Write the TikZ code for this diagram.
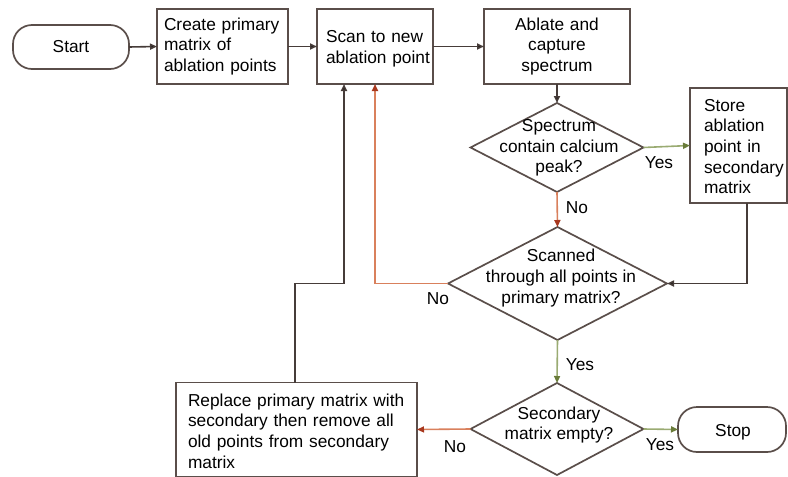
\documentclass[tikz,border=0pt]{standalone}
\usepackage{fontspec}
\setmainfont{Liberation Sans}
\usetikzlibrary{shapes.geometric,arrows.meta}
\definecolor{boxc}{HTML}{5A4E4A}
\definecolor{linec}{HTML}{463C39}
\definecolor{redl}{HTML}{D9805C}
\definecolor{redh}{HTML}{A8381E}
\definecolor{grnl}{HTML}{9AAB72}
\definecolor{grnh}{HTML}{6A7C3A}
\tikzset{
  base/.style={draw=boxc, line width=1.7pt, outer sep=0pt, font=\fontsize{17.3}{20.7}\selectfont},
  procbox/.style={base, rectangle, inner sep=0pt, align=left},
  termbox/.style={base, rectangle, rounded corners=19pt, inner sep=0pt},
  decis/.style={base, diamond, inner sep=0pt},
  txt/.style={inner sep=0pt, align=center, font=\fontsize{17.3}{20.7}\selectfont},
  lbl/.style={inner sep=0pt, font=\fontsize{17.3}{20.7}\selectfont},
  blk/.style={draw=linec, line width=1.6pt, -{Triangle[length=7pt,width=6pt,fill=black]}},
  redarr/.style={draw=redl, line width=1.6pt, -{Triangle[length=7pt,width=6pt,color=redh]}},
  grnarr/.style={draw=grnl, line width=1.6pt, -{Triangle[length=7pt,width=6pt,color=grnh]}},
}
\begin{document}
\begin{tikzpicture}[x=1pt,y=-1pt]
\useasboundingbox (0,0) rectangle (788,477);
% terminals
\node[termbox, minimum width=116pt, minimum height=44pt] (start) at (71,47) {Start};
\node[termbox, minimum width=108pt, minimum height=45pt] (stop) at (732,429.5) {};
\node[txt] at (733,432) {Stop};
% process boxes
\node[procbox, minimum width=131pt, minimum height=75pt, text width=117pt] (create) at (222.5,46.5) {Create primary\\matrix of\\ablation points};
\node[procbox, minimum width=116pt, minimum height=75pt] (scan) at (375,46.5) {};
\node[txt, align=left, text width=106pt] at (379,49) {Scan to new\\ablation point};
\node[procbox, minimum width=146pt, minimum height=75pt, text width=140pt, align=center] (ablate) at (557,46.5) {Ablate and\\capture\\spectrum};
\node[procbox, minimum width=97pt, minimum height=115pt] (store) at (738.5,145.5) {};
\node[txt, align=left, text width=82pt] at (745,146.5) {Store\\ablation\\point in\\secondary\\matrix};
\node[procbox, minimum width=241pt, minimum height=94pt] (replace) at (296.5,429.5) {};
\node[txt, align=left, text width=228pt] at (302,431) {Replace primary matrix with\\secondary then remove all\\old points from secondary\\matrix};
% decisions
\node[decis, minimum width=173pt, minimum height=89pt] (d1) at (557,147.5) {};
\node[txt] at (559,148) {Spectrum\\contain calcium\\peak?};
\node[decis, minimum width=219pt, minimum height=113pt] (d2) at (557.5,283.5) {};
\node[txt] at (561,278) {Scanned\\through all points in\\primary matrix?};
\node[decis, minimum width=173pt, minimum height=92pt] (d3) at (557,429) {};
\node[txt] at (559,425) {Secondary\\matrix empty?};
% coordinates
\coordinate (storeout) at ([xshift=8.5pt]store.south);
\coordinate (repout) at ([xshift=-1.5pt]replace.north);
\coordinate (scanin) at ([xshift=-31pt]scan.south);
% connectors
\draw[blk] (start.east) -- (create.west);
\draw[blk] (create.east) -- (scan.west);
\draw[blk] (scan.east) -- (ablate.west);
\draw[blk] (ablate.south) -- (d1.north);
\draw[grnarr] (d1.east) -- (store.west);
\draw[redarr] (d1.south) -- (d2.north);
\draw[blk] (storeout) |- (d2.east);
\draw[redarr] (d2.west) -| (scan.south);
\draw[blk] (repout) -- (repout |- d2.west) -| (scanin);
\draw[grnarr] (d2.south) -- (d3.north);
\draw[grnarr] (d3.east) -- (stop.west);
\draw[redarr] (d3.west) -- (replace.east);
% labels
\node[lbl] (l1) at (659,163) {Yes};
\node[lbl] (l2) at (577,208) {No};
\node[lbl] (l3) at (438,299) {No};
\node[lbl] (l4) at (580,365) {Yes};
\node[lbl] (l5) at (455,447) {No};
\node[lbl] (l6) at (660,445) {Yes};
\end{tikzpicture}
\end{document}
